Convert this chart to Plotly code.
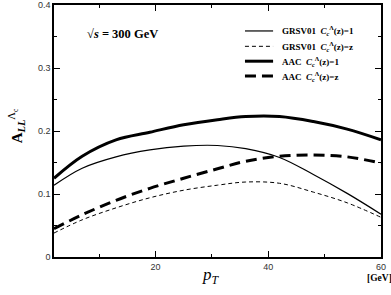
import plotly.graph_objects as go

pt = [2, 7, 13, 19, 25, 31, 36, 42, 48, 54, 60]
grsv_c1 = [0.114, 0.141, 0.159, 0.170, 0.176, 0.177, 0.172, 0.158, 0.131, 0.101, 0.068]
grsv_cz = [0.038, 0.059, 0.078, 0.094, 0.106, 0.114, 0.119, 0.117, 0.103, 0.086, 0.063]
aac_c1 = [0.125, 0.160, 0.186, 0.198, 0.210, 0.218, 0.223, 0.223, 0.215, 0.203, 0.186]
aac_cz = [0.045, 0.067, 0.090, 0.109, 0.125, 0.140, 0.152, 0.160, 0.162, 0.159, 0.149]

x_ticks = [20, 40, 60]
y_ticks = [0, 0.1, 0.2, 0.3, 0.4]
y_tick_labels = ["0", "0.1", "0.2", "0.3", "0.4"]

lab = "<i>C</i><sub><i>c</i></sub><sup>Λ</sup>(z)="
series = [
    ("GRSV01  " + lab + "1", grsv_c1, 1.2, "solid"),
    ("GRSV01  " + lab + "z", grsv_cz, 1.0, "4px,3px"),
    ("AAC  " + lab + "1", aac_c1, 3.0, "solid"),
    ("AAC  " + lab + "z", aac_cz, 3.0, "11px,6px"),
]

serif = "Liberation Serif"
sans = "Liberation Sans"

fig = go.Figure()
legend_rows = [0.897, 0.836, 0.777, 0.718]
for (name, ys, w, dash), ly in zip(series, legend_rows):
    fig.add_trace(go.Scatter(x=pt, y=ys, mode="lines", name=name, showlegend=False,
                             line=dict(color="black", width=w, dash=dash, shape="spline", smoothing=1.0)))
    # legend sample (decoration) + label
    fig.add_shape(type="line", xref="paper", yref="paper", x0=0.584, x1=0.670, y0=ly, y1=ly,
                  line=dict(color="black", width=w, dash=dash))
    fig.add_annotation(xref="paper", yref="paper", x=0.69, y=ly, xanchor="left", yanchor="middle",
                       text="<b>" + name + "</b>", showarrow=False,
                       font=dict(family=serif, size=9, color="black"))

fig.update_layout(
    width=391, height=295,
    margin=dict(l=54, r=10, t=5, b=38),
    paper_bgcolor="white", plot_bgcolor="white",
    showlegend=False,
    xaxis=dict(range=[2, 60], tickvals=x_ticks, ticks="inside", ticklen=6, tickwidth=1.2,
               tickcolor="black", showline=True, linecolor="black", linewidth=1.5, mirror="ticks",
               showgrid=False, zeroline=False, automargin=False, ticklabeloverflow="allow",
               tickfont=dict(family=sans, size=9, color="#333"),
               minor=dict(dtick=10, tick0=0, ticks="inside", ticklen=3, tickcolor="black", showgrid=False)),
    yaxis=dict(range=[0, 0.4], tickvals=y_ticks, ticktext=y_tick_labels, ticks="inside", ticklen=6,
               tickwidth=1.2, tickcolor="black", showline=True, linecolor="black", linewidth=1.5,
               mirror="ticks", showgrid=False, zeroline=False, automargin=False, ticklabeloverflow="allow",
               tickfont=dict(family=sans, size=9, color="#333"),
               minor=dict(dtick=0.05, tick0=0, ticks="inside", ticklen=3, tickcolor="black", showgrid=False)),
)

fig.add_annotation(xref="paper", yref="paper", x=0.095, y=0.885, xanchor="left", yanchor="middle",
                   text="<b>√<i>s</i> = 300 GeV</b>", showarrow=False,
                   font=dict(family=serif, size=12.5, color="black"))
fig.add_annotation(xref="paper", yref="paper", x=-0.115, y=0.52, xanchor="center", yanchor="middle",
                   text="<b>A</b><sub><b><i>LL</i></b></sub><sup>Λ<sub>c</sub></sup>", textangle=-90,
                   showarrow=False, font=dict(family=serif, size=15, color="black"))
fig.add_annotation(xref="paper", yref="paper", x=0.48, y=-0.075, xanchor="center", yanchor="middle",
                   text="<i>p</i><sub><i>T</i></sub>", showarrow=False,
                   font=dict(family=serif, size=17, color="black"))
fig.add_annotation(xref="paper", yref="paper", x=0.995, y=-0.083, xanchor="center", yanchor="middle",
                   text="<b>[GeV]</b>", showarrow=False,
                   font=dict(family=serif, size=9.5, color="black"))

fig.write_html("out.html", config={"displayModeBar": False},
               post_script="document.body.style.margin='0';document.body.style.overflow='hidden';")
